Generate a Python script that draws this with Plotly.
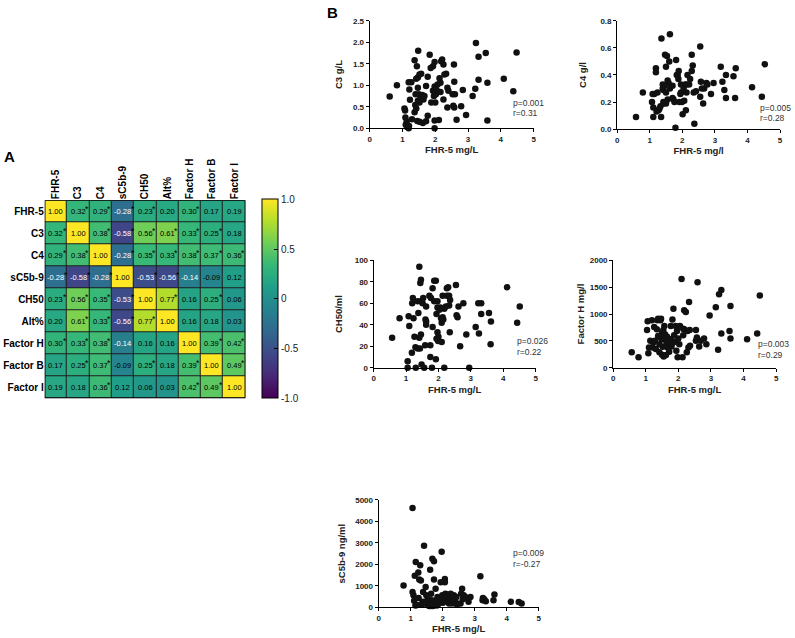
import plotly.graph_objects as go

W, H = 795, 638
FONT = "Arial, Liberation Sans, sans-serif"

# ---------------- Panel A data ----------------
labels = ["FHR-5", "C3", "C4", "sC5b-9", "CH50", "Alt%", "Factor H", "Factor B", "Factor I"]
corr = [
    [1.00, 0.32, 0.29, -0.28, 0.23, 0.20, 0.30, 0.17, 0.19],
    [0.32, 1.00, 0.38, -0.58, 0.56, 0.61, 0.33, 0.25, 0.18],
    [0.29, 0.38, 1.00, -0.28, 0.35, 0.33, 0.38, 0.37, 0.36],
    [-0.28, -0.58, -0.28, 1.00, -0.53, -0.56, -0.14, -0.09, 0.12],
    [0.23, 0.56, 0.35, -0.53, 1.00, 0.77, 0.16, 0.25, 0.06],
    [0.20, 0.61, 0.33, -0.56, 0.77, 1.00, 0.16, 0.18, 0.03],
    [0.30, 0.33, 0.38, -0.14, 0.16, 0.16, 1.00, 0.39, 0.42],
    [0.17, 0.25, 0.37, -0.09, 0.25, 0.18, 0.39, 1.00, 0.49],
    [0.19, 0.18, 0.36, 0.12, 0.06, 0.03, 0.42, 0.49, 1.00],
]
significant = [
    [0, 1, 1, 1, 1, 0, 1, 0, 0],
    [1, 0, 1, 1, 1, 1, 1, 1, 0],
    [1, 1, 0, 1, 1, 1, 1, 1, 1],
    [1, 1, 1, 0, 1, 1, 0, 0, 0],
    [1, 1, 1, 1, 0, 1, 0, 1, 0],
    [0, 1, 1, 1, 1, 0, 0, 0, 0],
    [1, 1, 1, 0, 0, 0, 0, 1, 1],
    [0, 1, 1, 0, 1, 0, 1, 0, 1],
    [0, 0, 1, 0, 0, 0, 1, 1, 0],
]
cbar_ticks = [-1, -0.5, 0, 0.5, 1]
cbar_ticktext = ["-1.0", "-0.5", "0", "0.5", "1.0"]

# ---------------- Panel B data (FHR-5 mg/L, value) ----------------
c3_points = [(0.61,0.74),(0.83,1.00),(1.06,0.46),(1.08,0.41),(1.09,0.25),(1.13,0.16),(1.10,0.08),(1.14,0.03),(1.19,0.00),(1.20,0.05),(1.19,1.07),(1.27,1.07),(1.21,0.90),(1.23,0.66),(1.29,0.21),(1.37,0.37),(1.39,0.54),(1.40,0.79),(1.37,1.58),(1.44,1.44),(1.48,1.80),(1.42,1.15),(1.47,1.18),(1.52,1.25),(1.57,1.27),(1.47,0.94),(1.50,0.79),(1.47,0.64),(1.52,0.60),(1.55,0.74),(1.60,0.77),(1.42,0.46),(1.45,0.17),(1.52,0.15),(1.62,0.12),(1.64,0.67),(1.67,0.75),(1.72,0.98),(1.77,1.20),(1.83,1.71),(1.86,1.40),(1.93,1.44),(1.98,1.54),(1.88,0.60),(1.77,0.29),(1.72,0.16),(1.98,0.18),(1.98,0.00),(1.93,0.87),(1.98,0.97),(1.96,0.75),(2.00,0.60),(2.02,0.79),(2.04,0.89),(2.07,1.02),(2.13,1.16),(2.16,1.06),(2.16,0.84),(2.18,1.56),(2.21,1.60),(2.25,1.48),(2.11,0.19),(2.25,0.67),(2.28,1.25),(2.33,1.27),(2.37,0.94),(2.40,0.87),(2.37,0.48),(2.57,1.48),(2.58,1.08),(2.53,0.79),(2.55,0.52),(2.58,0.48),(2.65,0.20),(2.60,0.79),(2.79,0.51),(2.84,0.89),(2.94,0.31),(3.14,0.75),(3.22,0.92),(3.24,1.98),(3.32,1.66),(3.32,1.13),(3.54,1.75),(3.59,1.06),(3.59,0.18),(4.09,1.15),(4.38,0.86),(4.48,1.76)]
c4_points = [(0.58,0.09),(0.79,0.27),(1.07,0.20),(1.09,0.26),(1.11,0.16),(1.11,0.09),(1.14,0.26),(1.19,0.45),(1.19,0.42),(1.21,0.13),(1.27,0.14),(1.30,0.15),(1.24,0.27),(1.33,0.17),(1.35,0.09),(1.36,0.67),(1.40,0.33),(1.40,0.30),(1.42,0.29),(1.42,0.20),(1.43,0.19),(1.45,0.32),(1.47,0.55),(1.50,0.46),(1.50,0.27),(1.53,0.54),(1.55,0.36),(1.55,0.22),(1.58,0.34),(1.60,0.50),(1.62,0.70),(1.62,0.30),(1.50,0.19),(1.70,0.32),(1.70,0.23),(1.73,0.22),(1.76,0.20),(1.79,0.01),(1.81,0.51),(1.83,0.40),(1.86,0.40),(1.89,0.43),(1.88,0.37),(1.91,0.20),(1.94,0.26),(1.96,0.33),(1.96,0.27),(1.99,0.20),(2.01,0.11),(2.06,0.21),(2.04,0.30),(2.09,0.33),(2.13,0.33),(2.13,0.27),(2.11,0.14),(2.16,0.40),(2.21,0.33),(2.24,0.37),(2.29,0.55),(2.29,0.43),(2.32,0.47),(2.35,0.27),(2.37,0.04),(2.42,0.28),(2.55,0.61),(2.55,0.24),(2.57,0.35),(2.60,0.30),(2.64,0.19),(2.67,0.30),(2.74,0.34),(2.77,0.33),(2.88,0.26),(2.96,0.34),(3.18,0.46),(3.23,0.35),(3.29,0.29),(3.34,0.40),(3.34,0.23),(3.57,0.39),(3.62,0.23),(3.64,0.45),(4.14,0.31),(4.44,0.24),(4.53,0.48)]
ch50_points = [(0.57,28),(0.80,46),(1.05,6),(1.05,0),(1.08,48),(1.10,39),(1.18,14),(1.21,65),(1.19,60),(1.23,46),(1.26,29),(1.29,19),(1.30,0),(1.36,18),(1.36,62),(1.38,51),(1.41,94),(1.41,28),(1.43,18),(1.44,79),(1.46,82),(1.46,62),(1.48,3),(1.46,31),(1.51,60),(1.53,65),(1.56,0),(1.59,21),(1.60,45),(1.62,43),(1.62,40),(1.62,57),(1.72,67),(1.75,10),(1.75,21),(1.77,65),(1.80,0),(1.82,38),(1.82,74),(1.87,81),(1.87,62),(1.92,8),(1.92,81),(1.94,27),(1.94,50),(1.97,62),(1.97,56),(1.97,33),(2.00,29),(1.99,25),(2.03,54),(2.06,56),(2.08,46),(2.10,42),(2.10,24),(2.13,47),(2.13,67),(2.15,45),(2.18,0),(2.18,55),(2.23,57),(2.26,67),(2.26,74),(2.30,75),(2.33,67),(2.33,58),(2.35,33),(2.36,63),(2.54,77),(2.56,49),(2.59,47),(2.62,57),(2.67,20),(2.77,60),(2.86,31),(2.95,0),(3.15,38),(3.23,60),(3.25,32),(3.32,60),(3.32,50),(3.56,51),(3.61,22),(3.62,43),(4.12,75),(4.43,42),(4.51,57)]
fh_points = [(0.57,287),(0.78,196),(1.04,703),(1.06,868),(1.08,269),(1.10,379),(1.14,502),(1.19,887),(1.21,379),(1.23,471),(1.26,758),(1.28,502),(1.31,349),(1.34,716),(1.36,887),(1.38,911),(1.38,593),(1.42,440),(1.42,287),(1.44,562),(1.45,887),(1.47,911),(1.49,532),(1.50,654),(1.50,245),(1.52,391),(1.54,703),(1.55,208),(1.55,532),(1.57,777),(1.59,624),(1.62,238),(1.64,459),(1.65,581),(1.67,379),(1.70,502),(1.72,300),(1.77,777),(1.77,532),(1.79,398),(1.82,899),(1.82,459),(1.85,1101),(1.87,605),(1.89,483),(1.92,777),(1.94,318),(1.96,685),(1.98,196),(2.00,544),(2.03,440),(2.05,777),(2.10,1651),(2.13,196),(2.15,605),(2.15,728),(2.18,716),(2.18,1070),(2.23,1040),(2.26,287),(2.28,685),(2.31,379),(2.33,1223),(2.35,703),(2.36,410),(2.54,703),(2.54,502),(2.57,562),(2.59,1590),(2.64,398),(2.69,502),(2.79,544),(2.86,440),(2.96,973),(3.15,1125),(3.22,336),(3.25,1370),(3.32,1450),(3.32,636),(3.57,685),(3.60,1150),(3.60,544),(4.11,532),(4.42,636),(4.50,1346)]
sc5b9_points = [(0.78,1018),(1.06,4620),(1.06,714),(1.09,562),(1.11,304),(1.13,1474),(1.16,2112),(1.20,106),(1.24,1626),(1.25,441),(1.27,1292),(1.30,1960),(1.32,1246),(1.37,258),(1.39,714),(1.42,2872),(1.45,258),(1.47,942),(1.49,562),(1.53,106),(1.55,380),(1.56,182),(1.58,60),(1.60,213),(1.61,1748),(1.63,60),(1.64,638),(1.66,334),(1.68,2264),(1.70,60),(1.73,2143),(1.73,1292),(1.76,182),(1.78,866),(1.80,334),(1.84,486),(1.87,152),(1.89,380),(1.94,1170),(1.97,2584),(1.99,562),(2.01,213),(2.04,486),(2.07,1322),(2.07,1170),(2.09,638),(2.12,289),(2.14,562),(2.18,380),(2.20,182),(2.23,486),(2.25,638),(2.28,380),(2.30,182),(2.33,334),(2.35,562),(2.40,258),(2.43,486),(2.56,182),(2.58,638),(2.61,866),(2.63,380),(2.66,562),(2.71,486),(2.81,258),(2.87,486),(3.18,1444),(3.25,334),(3.26,441),(3.30,380),(3.35,289),(3.59,334),(3.62,593),(4.13,258),(4.38,250),(4.47,180),(1.15,90),(1.35,120),(1.52,300),(1.68,150),(1.82,90),(2.45,120)]

# (points, y label, x label, y max, y step, y tick format, p text, r text)
scatter_specs = [
    (c3_points, "C3 g/L", "FHR-5 mg/L", 2.5, 0.5, ".1f", "p=0.001", "r=0.31"),
    (c4_points, "C4 g/l", "FHR-5 mg/l", 0.8, 0.2, ".1f", "p=0.005", "r=0.28"),
    (ch50_points, "CH50/ml", "FHR-5 mg/L", 100, 20, "d", "p=0.026", "r=0.22"),
    (fh_points, "Factor H mg/l", "FHR-5 mg/L", 2000, 500, "d", "p=0.003", "r=0.29"),
    (sc5b9_points, "sC5b-9 ng/ml", "FHR-5 mg/L", 5000, 1000, "d", "p=0.009", "r=-0.27"),
]
x_ticks = [0, 1, 2, 3, 4, 5]

# ---------------- layout geometry (pixels) ----------------
heat_box = (43, 245, 199, 400)  # x0, x1, ytop, ybottom
scatter_boxes = [  # x0, x1, ytop, ybottom, ytitle standoff, xtitle standoff, p-label x, p-label y
    (370, 535, 17, 126, 8, 3, 513, 100),
    (619, 783, 17, 127, 12, 3, 762, 105),
    (374, 537, 260, 369, 10, 3, 517, 342),
    (615, 779, 260, 369, 3, 3, 760, 345),
    (379, 540, 503, 612, 7, 1, 513, 557),
]


def dx(p):
    return p / W


def dy(p):
    return 1 - p / H


fig = go.Figure()
n = len(labels)

fig.add_trace(go.Heatmap(
    z=corr, x=list(range(n)), y=list(range(n)),
    colorscale="Viridis", zmin=-1, zmax=1, xgap=1, ygap=1,
    hoverinfo="skip",
    colorbar=dict(
        x=dx(262), xanchor="left", y=dy(299), yanchor="middle",
        len=202 / H, lenmode="fraction", thickness=16, thicknessmode="pixels",
        xpad=0, ypad=0, outlinewidth=1, outlinecolor="black",
        tickvals=cbar_ticks, ticktext=cbar_ticktext,
        ticks="inside", ticklen=4, tickcolor="black",
        tickfont=dict(size=10, color="#222", family=FONT),
    ),
    xaxis="x", yaxis="y",
))

layout = dict(
    width=W, height=H, margin=dict(l=0, r=0, t=0, b=0),
    paper_bgcolor="white", plot_bgcolor="white", showlegend=False,
    font=dict(family=FONT, color="black"),
    xaxis=dict(domain=[dx(heat_box[0]), dx(heat_box[1])], anchor="y", side="top",
               range=[-0.5, n - 0.5], tickvals=list(range(n)), ticktext=labels,
               tickangle=-90, showgrid=False, zeroline=False, ticks="", showline=False,
               tickfont=dict(size=10, family=FONT, weight="bold", color="black")),
    yaxis=dict(domain=[dy(heat_box[3]), dy(heat_box[2])], anchor="x",
               range=[n - 0.5, -0.5], tickvals=list(range(n)), ticktext=labels,
               showgrid=False, zeroline=False, ticks="", showline=False,
               tickfont=dict(size=10, family=FONT, weight="bold", color="black")),
)

shapes = [
    dict(type="rect", xref="x", yref="y", x0=-0.5, x1=n - 0.5, y0=-0.5, y1=n - 0.5,
         fillcolor="#1e1e1e", line=dict(width=0), layer="below"),
    dict(type="rect", xref="x", yref="y", x0=-0.5, x1=n - 0.5, y0=-0.5, y1=n - 0.5,
         fillcolor="rgba(0,0,0,0)", line=dict(width=1.5, color="black"), layer="above"),
]
annotations = []
for i in range(n):
    for j in range(n):
        v = corr[i][j]
        annotations.append(dict(
            x=j, y=i, xref="x", yref="y", text=f"{v:.2f}", showarrow=False,
            borderpad=0,
            font=dict(size=7.5, family=FONT, color="white" if v < -0.1 else "black")))
        if significant[i][j]:
            annotations.append(dict(
                x=j + (0.47 if v < 0 else 0.39), y=i - 0.1, xref="x", yref="y",
                text="*", showarrow=False, borderpad=0,
                font=dict(size=8.5, family=FONT, color="black")))

for k, (spec, box) in enumerate(zip(scatter_specs, scatter_boxes)):
    pts, ylab, xlab, ymax, ystep, yfmt, ptxt, rtxt = spec
    x0, x1, yt, yb, ystand, xstand, plx, ply = box
    idx = k + 2
    xs = [p[0] for p in pts]
    ys = [p[1] for p in pts]
    fig.add_trace(go.Scatter(
        x=xs, y=ys, mode="markers", cliponaxis=False,
        marker=dict(size=6.5, color="#111111"),
        xaxis=f"x{idx}", yaxis=f"y{idx}", hoverinfo="skip"))
    yticks = []
    t = 0.0
    while t <= ymax + 1e-9:
        yticks.append(round(t, 4))
        t += ystep
    tick_font = dict(size=8, family=FONT, weight="bold", color="#222")
    title_font = dict(size=9.5, family=FONT, weight="bold", color="#222")
    layout[f"xaxis{idx}"] = dict(
        domain=[dx(x0), dx(x1)], anchor=f"y{idx}", range=[0, 5], tickvals=x_ticks,
        showline=True, linecolor="black", linewidth=1, ticks="outside", ticklen=3,
        tickcolor="black", showgrid=False, zeroline=False, tickfont=tick_font,
        title=dict(text=xlab, font=title_font, standoff=xstand))
    layout[f"yaxis{idx}"] = dict(
        domain=[dy(yb), dy(yt)], anchor=f"x{idx}", range=[0, ymax], tickvals=yticks,
        tickformat=yfmt, showline=True, linecolor="black", linewidth=1,
        ticks="outside", ticklen=3, tickcolor="black", showgrid=False,
        zeroline=False, tickfont=tick_font,
        title=dict(text=ylab, font=title_font, standoff=ystand))
    annotations.append(dict(x=dx(plx), y=dy(ply), xref="paper", yref="paper",
                            text=ptxt, showarrow=False, xanchor="left", yanchor="middle",
                            borderpad=0, font=dict(size=8.5, family=FONT, color="#333")))
    annotations.append(dict(x=dx(plx), y=dy(ply + 11), xref="paper", yref="paper",
                            text=rtxt, showarrow=False, xanchor="left", yanchor="middle",
                            borderpad=0, font=dict(size=8.5, family=FONT, color="#333")))

annotations.append(dict(x=dx(8), y=dy(155), xref="paper", yref="paper", text="A",
                        showarrow=False, xanchor="center", yanchor="middle",
                        font=dict(size=15, family=FONT, weight="bold", color="black")))
annotations.append(dict(x=dx(333), y=dy(9), xref="paper", yref="paper", text="B",
                        showarrow=False, xanchor="center", yanchor="middle",
                        font=dict(size=15, family=FONT, weight="bold", color="black")))

layout["shapes"] = shapes
layout["annotations"] = annotations
fig.update_layout(**layout)
fig.write_html("out.html", config={"displayModeBar": False},
               post_script="document.body.style.margin='0';document.body.style.overflow='hidden';")
